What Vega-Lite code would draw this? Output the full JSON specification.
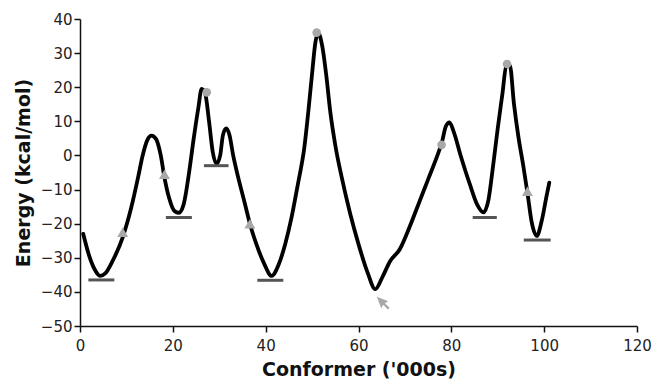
{
  "$schema": "https://vega.github.io/schema/vega-lite/v6.json",
  "width": 557,
  "height": 307,
  "autosize": {"type": "none"},
  "padding": {"left": 80, "top": 19, "right": 17, "bottom": 61},
  "background": "white",
  "config": {
    "view": {"stroke": null},
    "font": "DejaVu Sans",
    "axis": {
      "grid": false,
      "domainColor": "#111",
      "domainWidth": 1.5,
      "tickColor": "#111",
      "tickWidth": 1.5,
      "tickSize": 6,
      "labelFont": "DejaVu Sans",
      "labelFontSize": 15,
      "labelColor": "#222",
      "labelOverlap": false,
      "labelFlush": false,
      "titleFont": "DejaVu Sans",
      "titleFontSize": 19,
      "titleFontWeight": "bold",
      "titleColor": "#111"
    }
  },
  "datasets": {
    "curve": [
      {"conformer": 0.7, "energy": -23},
      {"conformer": 2, "energy": -29.5},
      {"conformer": 3.2, "energy": -33.5},
      {"conformer": 4.3, "energy": -35.3},
      {"conformer": 5.5, "energy": -34.5},
      {"conformer": 7, "energy": -31},
      {"conformer": 9.2, "energy": -24},
      {"conformer": 11, "energy": -15.5},
      {"conformer": 12.5, "energy": -6.5},
      {"conformer": 13.5, "energy": 0},
      {"conformer": 14.5, "energy": 4.5},
      {"conformer": 15.4, "energy": 5.8},
      {"conformer": 16.4, "energy": 4.8},
      {"conformer": 17.4, "energy": 0},
      {"conformer": 18.2, "energy": -6.5},
      {"conformer": 19.2, "energy": -12.5},
      {"conformer": 20.3, "energy": -16.2},
      {"conformer": 21.3, "energy": -16.8},
      {"conformer": 22.3, "energy": -14.5},
      {"conformer": 23.5, "energy": -5},
      {"conformer": 24.5, "energy": 5},
      {"conformer": 25.5, "energy": 14},
      {"conformer": 26.2, "energy": 19.5},
      {"conformer": 27, "energy": 18},
      {"conformer": 27.8, "energy": 10},
      {"conformer": 28.6, "energy": 1},
      {"conformer": 29.4, "energy": -2.5},
      {"conformer": 30.2, "energy": 0},
      {"conformer": 30.8, "energy": 6},
      {"conformer": 31.5, "energy": 7.9},
      {"conformer": 32.2, "energy": 6},
      {"conformer": 33, "energy": 0},
      {"conformer": 34, "energy": -6},
      {"conformer": 35.5, "energy": -14},
      {"conformer": 36.6, "energy": -20},
      {"conformer": 38, "energy": -26},
      {"conformer": 39.6, "energy": -31.5},
      {"conformer": 41.3, "energy": -35.3},
      {"conformer": 42.8, "energy": -32},
      {"conformer": 44.2, "energy": -26},
      {"conformer": 45.6, "energy": -18},
      {"conformer": 47, "energy": -8},
      {"conformer": 48.3, "energy": 2},
      {"conformer": 49.2, "energy": 13},
      {"conformer": 50, "energy": 24},
      {"conformer": 50.7, "energy": 33},
      {"conformer": 51.3, "energy": 36},
      {"conformer": 52.2, "energy": 32},
      {"conformer": 53.1, "energy": 23},
      {"conformer": 53.9, "energy": 13},
      {"conformer": 55, "energy": 3},
      {"conformer": 56.4, "energy": -6.5},
      {"conformer": 58.2, "energy": -17},
      {"conformer": 60, "energy": -26},
      {"conformer": 62, "energy": -34.5},
      {"conformer": 63.6, "energy": -39.2},
      {"conformer": 65.2, "energy": -35.5},
      {"conformer": 66.8, "energy": -31},
      {"conformer": 68.9, "energy": -27.5},
      {"conformer": 71, "energy": -21},
      {"conformer": 73, "energy": -14},
      {"conformer": 75, "energy": -7},
      {"conformer": 77, "energy": 0},
      {"conformer": 78, "energy": 4},
      {"conformer": 78.8, "energy": 8.5},
      {"conformer": 79.6, "energy": 9.7},
      {"conformer": 80.5, "energy": 7},
      {"conformer": 82, "energy": 0},
      {"conformer": 84, "energy": -8.5},
      {"conformer": 85.6, "energy": -14.5},
      {"conformer": 86.9, "energy": -16.7},
      {"conformer": 88, "energy": -13},
      {"conformer": 89, "energy": -3},
      {"conformer": 90, "energy": 8},
      {"conformer": 91, "energy": 18},
      {"conformer": 91.8, "energy": 26},
      {"conformer": 92.6, "energy": 26.5},
      {"conformer": 93.5, "energy": 15},
      {"conformer": 94.5, "energy": 5},
      {"conformer": 95.5, "energy": -3},
      {"conformer": 96.4, "energy": -11},
      {"conformer": 97.3, "energy": -19.5},
      {"conformer": 98.4, "energy": -23.6},
      {"conformer": 99.5, "energy": -19},
      {"conformer": 100.5, "energy": -12},
      {"conformer": 101.1, "energy": -8}
    ],
    "minima": [
      {"start": 1.8, "end": 7.4, "energy": -36.5},
      {"start": 18.5, "end": 24.1, "energy": -18.2},
      {"start": 26.7, "end": 32.0, "energy": -3.0},
      {"start": 38.2, "end": 43.8, "energy": -36.6},
      {"start": 84.6, "end": 89.8, "energy": -18.2},
      {"start": 95.6, "end": 101.4, "energy": -24.8}
    ],
    "markers": [
      {"conformer": 9.2, "energy": -22.5, "kind": "triangle"},
      {"conformer": 18.2, "energy": -5.5, "kind": "triangle"},
      {"conformer": 36.6, "energy": -20, "kind": "triangle"},
      {"conformer": 96.4, "energy": -10.5, "kind": "triangle"},
      {"conformer": 27.3, "energy": 18.5, "kind": "circle"},
      {"conformer": 51.0, "energy": 36, "kind": "circle"},
      {"conformer": 77.9, "energy": 3.1, "kind": "circle"},
      {"conformer": 92.0, "energy": 26.8, "kind": "circle"},
      {"conformer": 65.4, "energy": -43.4, "kind": "arrow"}
    ]
  },
  "layer": [
    {
      "data": {"name": "curve"},
      "mark": {"type": "line", "color": "#000", "strokeWidth": 3.8, "interpolate": "monotone", "strokeCap": "round", "strokeJoin": "round"},
      "encoding": {
        "x": {"field": "conformer", "type": "quantitative", "scale": {"domain": [0, 120], "nice": false},
              "axis": {"values": [0, 20, 40, 60, 80, 100, 120], "tickCount": 20, "labelOverlap": false, "title": "Conformer ('000s)", "titlePadding": 7, "labelPadding": 6}},
        "y": {"field": "energy", "type": "quantitative", "scale": {"domain": [-50, 40], "nice": false},
              "axis": {"values": [-50, -40, -30, -20, -10, 0, 10, 20, 30, 40], "tickCount": 20, "labelOverlap": false, "labelBound": false, "title": "Energy (kcal/mol)", "titlePadding": 7, "labelPadding": 2}}
      }
    },
    {
      "data": {"name": "minima"},
      "mark": {"type": "rule", "color": "#555", "strokeWidth": 3},
      "encoding": {
        "x": {"field": "start", "type": "quantitative"},
        "x2": {"field": "end"},
        "y": {"field": "energy", "type": "quantitative"}
      }
    },
    {
      "data": {"name": "markers"},
      "transform": [{"filter": "datum.kind === 'triangle'"}],
      "mark": {"type": "point", "shape": "triangle-up", "filled": true, "color": "#a8a8a8", "opacity": 1, "size": 120},
      "encoding": {
        "x": {"field": "conformer", "type": "quantitative"},
        "y": {"field": "energy", "type": "quantitative"}
      }
    },
    {
      "data": {"name": "markers"},
      "transform": [{"filter": "datum.kind === 'circle'"}],
      "mark": {"type": "point", "shape": "circle", "filled": true, "color": "#a8a8a8", "opacity": 1, "size": 75},
      "encoding": {
        "x": {"field": "conformer", "type": "quantitative"},
        "y": {"field": "energy", "type": "quantitative"}
      }
    },
    {
      "data": {"name": "markers"},
      "transform": [{"filter": "datum.kind === 'arrow'"}],
      "mark": {"type": "point", "shape": "M-1,-1L0.7,-0.35L0.2,-0.05L0.9,0.65L0.65,0.9L-0.05,0.2L-0.35,0.7Z", "filled": true, "color": "#a8a8a8", "opacity": 1, "size": 180},
      "encoding": {
        "x": {"field": "conformer", "type": "quantitative"},
        "y": {"field": "energy", "type": "quantitative"}
      }
    }
  ]
}
